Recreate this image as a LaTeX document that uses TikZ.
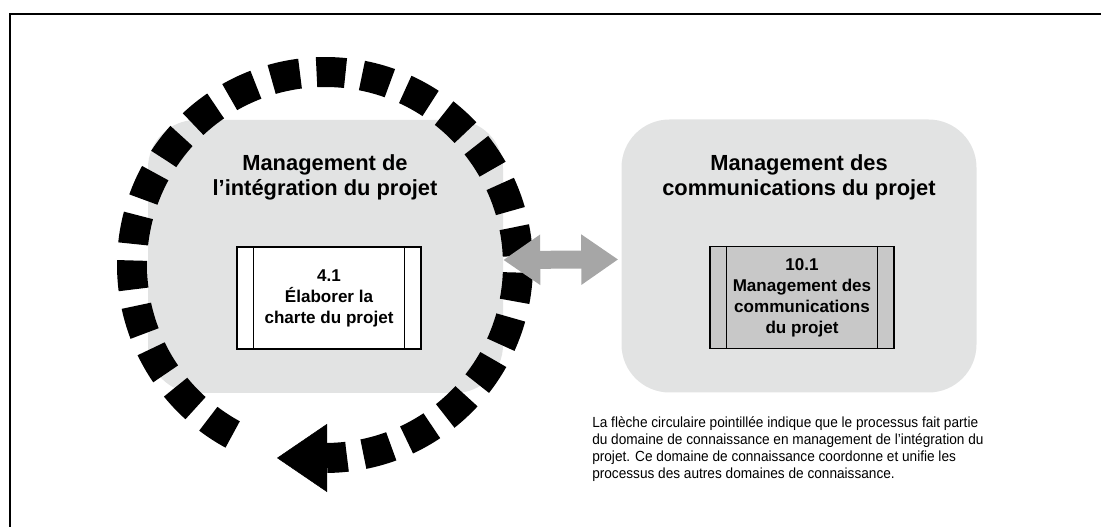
\documentclass[tikz,border=0pt]{standalone}
\usepackage{fontspec}
\setmainfont{Liberation Sans}
\newfontfamily\notefont[FakeStretch=0.93]{Liberation Sans}
\usetikzlibrary{arrows.meta}

\definecolor{areagray}{RGB}{226,227,227}
\definecolor{procgray}{RGB}{200,200,200}
\definecolor{linkgray}{RGB}{166,166,166}

\tikzset{
  area/.style={fill=areagray, rounded corners=36pt, minimum width=266.25pt,
    minimum height=204.75pt, inner sep=0pt},
  areatitle/.style={font=\fontsize{16.4}{18.75}\selectfont\bfseries,
    align=center, inner sep=0pt},
  process/.style={draw=black, line width=1.1pt, minimum width=138pt,
    minimum height=76.5pt, inner sep=0pt, align=center,
    font=\fontsize{12.8}{15.8}\selectfont\bfseries},
  ringdash/.style={line width=22.5pt, dash pattern=on 21.75pt off 12.45pt,
    dash phase=6.75pt},
  link/.style={draw=linkgray, line width=13.5pt,
    {Triangle[length=27.75pt,width=36pt]}-{Triangle[length=27.75pt,width=36pt]}}
}

\begin{document}
\begin{tikzpicture}[x=0.75pt,y=0.75pt]
\useasboundingbox (0,0) rectangle (1101,527);
\draw[line width=1.5pt] (10,0) -- (10,513) -- (1101,513);

\coordinate (hub) at (325,262);

\node[area] (integ) at (325.5,270.5) {};
\node[area] (comm) at (799,271) {};

% cercle pointille
\path (hub) ++(-89.4:193) coordinate (tail);
\draw[ringdash] (tail) arc[start angle=-89.4, end angle=243, radius=193];
\draw[-{Triangle[length=37.5pt,width=51pt]}] (tail) -- ++(-50,0);

\draw[link] ([yshift=-2.6pt]integ.east) -- ([yshift=-2.6pt,xshift=-2.25pt]comm.west);

\node[areatitle] (integtitle) at (325,350) {Management de\\l’intégration du projet};
\node[areatitle] (commtitle) at (799,350) {Management des\\communications du projet};

\node[process, fill=white] (charte) at (329,229) {4.1\\Élaborer la\\charte du projet};
\draw[line width=1.1pt] ([xshift=12.75pt]charte.north west) -- ([xshift=12.75pt]charte.south west);
\draw[line width=1.1pt] ([xshift=-12.75pt]charte.north east) -- ([xshift=-12.75pt]charte.south east);

\node[process, fill=procgray] (mgmt) at (802,229.5) {10.1\\Management des\\communications\\du projet};
\draw[line width=1.1pt] ([xshift=12.75pt]mgmt.north west) -- ([xshift=12.75pt]mgmt.south west);
\draw[line width=1.1pt] ([xshift=-12.75pt]mgmt.north east) -- ([xshift=-12.75pt]mgmt.south east);

\node[anchor=north west, align=left, inner sep=0pt,
  font=\notefont\fontsize{11}{12.9}\selectfont] (note) at (592,110.7)
  {La flèche circulaire pointillée indique que le processus fait partie\\
   du domaine de connaissance en management de l’intégration du\\
   projet. Ce domaine de connaissance coordonne et unifie les\\
   processus des autres domaines de connaissance.};
\end{tikzpicture}
\end{document}
